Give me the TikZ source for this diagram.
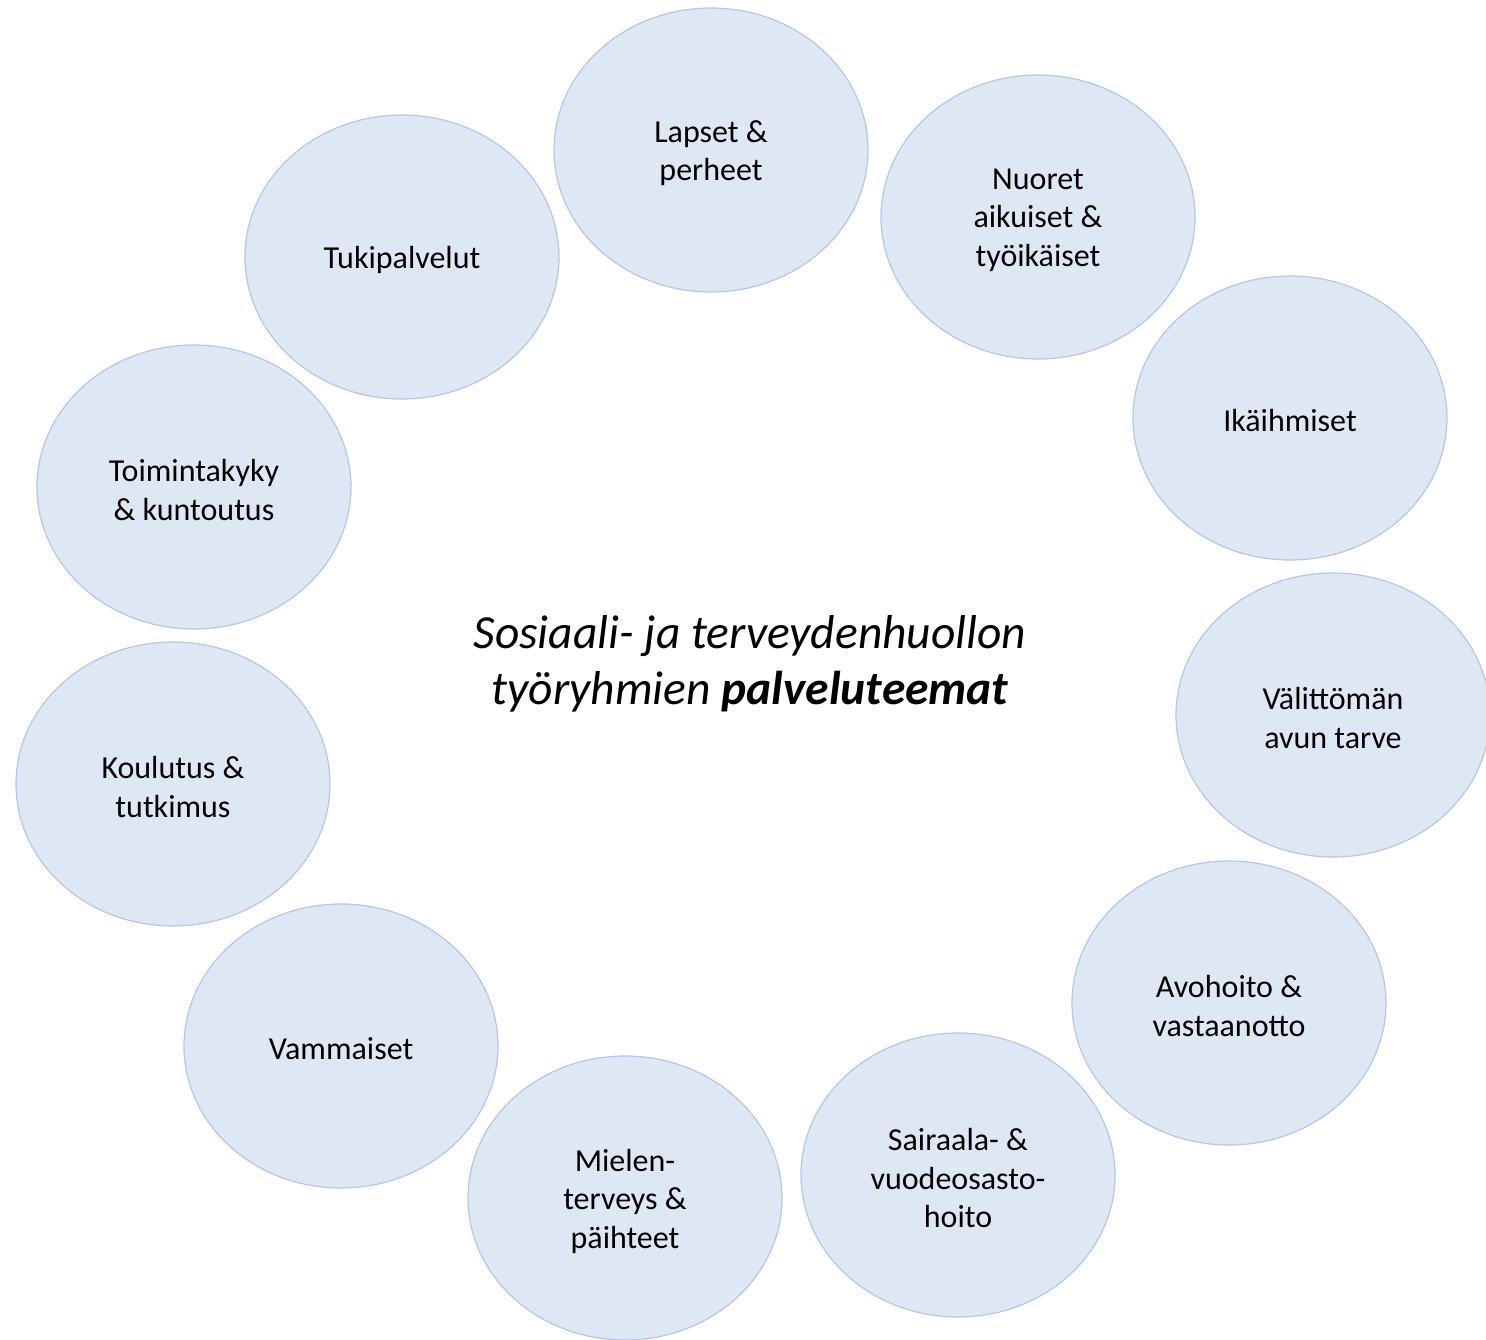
\documentclass[tikz,border=0pt]{standalone}
\usepackage{fontspec}
\setmainfont{Carlito}
\usetikzlibrary{shapes.geometric}
\definecolor{bubfill}{HTML}{DEE8F5}
\definecolor{bubline}{HTML}{B4C7E7}
\tikzset{
  bub/.style={ellipse, draw=bubline, fill=bubfill, line width=1.2pt,
    minimum width=314pt, minimum height=284pt, inner sep=0pt, align=center,
    font=\fontsize{32}{38.5}\selectfont, text=black},
  lab/.style={align=center, font=\fontsize{32}{38.5}\selectfont, text=black, inner sep=0pt, yshift=-3pt},
}
\begin{document}
\begin{tikzpicture}[x=1pt,y=-1pt]
\useasboundingbox (0,0) rectangle (1486,1339);
\begin{scope}
\clip (0,0) rectangle (1486,1339);
\node[bub] (lapset) at (711,150) {};
\node[bub] (nuoret) at (1038,217) {};
\node[bub] (ika) at (1290,418) {};
\node[bub] (valit) at (1333,715) {};
\node[bub] (avo) at (1229,1003) {};
\node[bub] (sair) at (958,1175) {};
\node[bub] (miel) at (625,1198) {};
\node[bub] (vamm) at (341,1046) {};
\node[bub] (koul) at (173,784) {};
\node[bub] (toim) at (194,487) {};
\node[bub] (tuki) at (402,257) {};
\end{scope}
\node[lab] (tlapset) at (lapset.center) {Lapset \&\\perheet};
\node[lab] (tnuoret) at (nuoret.center) {Nuoret\\aikuiset \&\\työikäiset};
\node[lab] (tika) at (ika.center) {Ikäihmiset};
\node[lab] (tvalit) at (valit.center) {Välittömän\\avun tarve};
\node[lab] (tavo) at (avo.center) {Avohoito \&\\vastaanotto};
\node[lab] (tsair) at (sair.center) {Sairaala- \&\\vuodeosasto-\\hoito};
\node[lab] (tmiel) at (miel.center) {Mielen-\\terveys \&\\päihteet};
\node[lab] (tvamm) at (vamm.center) {Vammaiset};
\node[lab] (tkoul) at (koul.center) {Koulutus \&\\tutkimus};
\node[lab] (ttoim) at (toim.center) {Toimintakyky\\\& kuntoutus};
\node[lab] (ttuki) at (tuki.center) {Tukipalvelut};
\node[align=center, font=\fontsize{47.5}{56}\selectfont\itshape] (title) at (750,664)
  {Sosiaali- ja terveydenhuollon\\työryhmien \textbf{palveluteemat}};
\end{tikzpicture}
\end{document}
